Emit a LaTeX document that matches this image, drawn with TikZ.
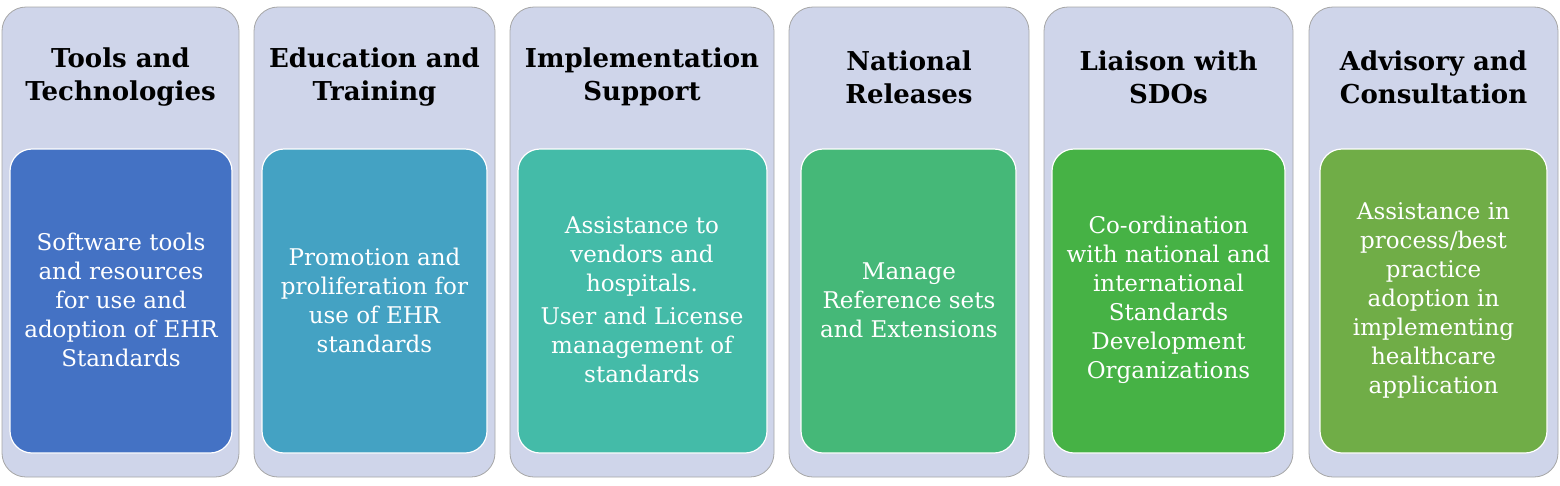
\documentclass[tikz,border=0pt]{standalone}
\usepackage{fontspec}
\setmainfont{DejaVu Serif}
\definecolor{outerc}{HTML}{CFD5EA}
\definecolor{c1}{HTML}{4472C4}
\definecolor{c2}{HTML}{44A2C3}
\definecolor{c3}{HTML}{44BBA8}
\definecolor{c4}{HTML}{45B878}
\definecolor{c5}{HTML}{46B245}
\definecolor{c6}{HTML}{70AD47}
\begin{document}
\begin{tikzpicture}[x=1pt,y=-1pt,
  outerbox/.style={fill=outerc,draw=gray!70,line width=0.8pt,rounded corners=24pt},
  innerbox/.style={draw=white,line width=1.2pt,rounded corners=22pt},
  ttl/.style={font=\fontsize{26}{33}\selectfont\bfseries,align=center,text=black},
  body/.style={font=\fontsize{23}{29}\selectfont,align=center,text=white}]
\useasboundingbox (0,0) rectangle (1560,485);
\foreach \a/\b/\ia/\ib/\c [count=\i] in {2/239/10/232/c1,254/495/262/487/c2,510/774/518/767/c3,789/1029/801/1016/c4,1044/1293/1052/1285/c5,1309/1558/1320/1547/c6}{
  \draw[outerbox] (\a,7) rectangle (\b,477);
  \draw[innerbox,fill=\c] (\ia,149) rectangle (\ib,453);
}
\node[ttl] (t1) at (120.5,77) {Tools and\\Technologies};
\node[ttl] (t2) at (374.5,77) {Education and\\Training};
\node[ttl] (t3) at (642,77) {Implementation\\Support};
\node[ttl] (t4) at (909,77) {National\\Releases};
\node[ttl] (t5) at (1168.5,77) {Liaison with\\SDOs};
\node[ttl] (t6) at (1433.5,77) {Advisory and\\Consultation};
\node[body] (b1) at (121,300) {Software tools\\and resources\\for use and\\adoption of EHR\\Standards};
\node[body] (b2) at (374.5,300) {Promotion and\\proliferation for\\use of EHR\\standards};
\node[body] (b3) at (642,300) {Assistance to\\vendors and\\hospitals.\\[4pt]User and License\\management of\\standards};
\node[body] (b4) at (909,300) {Manage\\Reference sets\\and Extensions};
\node[body] (b5) at (1168.5,300) {Co-ordination\\with national and\\international\\Standards\\Development\\Organizations};
\node[body] (b6) at (1433.5,300) {Assistance in\\process/best\\practice\\adoption in\\implementing\\healthcare\\application};
\end{tikzpicture}
\end{document}
